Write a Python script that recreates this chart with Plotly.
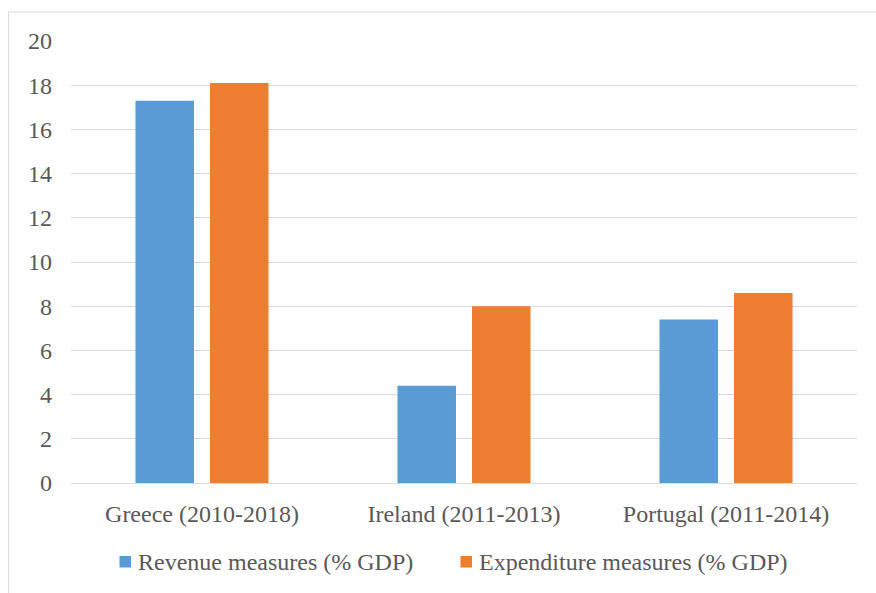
import plotly.graph_objects as go

# Fiscal consolidation measures by programme country
categories = ["Greece (2010-2018)", "Ireland (2011-2013)", "Portugal (2011-2014)"]
revenue = [17.3, 4.4, 7.4]
expenditure = [18.1, 8.0, 8.6]
series_names = ["Revenue measures (% GDP)", "Expenditure measures (% GDP)"]
y_ticks = [0, 2, 4, 6, 8, 10, 12, 14, 16, 18, 20]

BLUE = "#5B9BD5"
ORANGE = "#ED7D31"
TEXT = "#595959"
GRID = "#D9D9D9"
FONT = "Liberation Serif"
FS = 24

W, H = 876, 593
L, R, T, B = 71, 19, 41, 110
pw, ph = W - L - R, H - T - B

fig = go.Figure()
fig.add_trace(go.Bar(x=categories, y=revenue, name=series_names[0],
                     marker=dict(color=BLUE, line=dict(width=0))))
fig.add_trace(go.Bar(x=categories, y=expenditure, name=series_names[1],
                     marker=dict(color=ORANGE, line=dict(width=0))))


def px_x(px):
    return (px - L) / pw


def px_y(py):
    return (H - B - py) / ph


# light chart-area frame (left and top edges visible)
fig.add_shape(type="rect", xref="paper", yref="paper",
              x0=px_x(8.5), x1=px_x(W + 10), y0=px_y(H + 10), y1=px_y(12),
              line=dict(color=GRID, width=1), fillcolor="rgba(0,0,0,0)", layer="below")

# legend row below the axis: colour key squares with labels
legend_keys = [(119.5, 136, BLUE, series_names[0]), (460.5, 477, ORANGE, series_names[1])]
for sx, tx, col, label in legend_keys:
    fig.add_shape(type="rect", xref="paper", yref="paper",
                  x0=px_x(sx), x1=px_x(sx + 11.5), y0=px_y(567.5), y1=px_y(556),
                  line=dict(width=0), fillcolor=col)
    fig.add_annotation(xref="paper", yref="paper", x=px_x(tx), y=px_y(562),
                       xanchor="left", yanchor="middle", showarrow=False,
                       text=label, font=dict(family=FONT, size=FS, color=TEXT))

fig.update_layout(
    width=W, height=H,
    margin=dict(l=L, r=R, t=T, b=B),
    paper_bgcolor="white", plot_bgcolor="white",
    barmode="group", bargap=0.431, bargroupgap=0.215,
    font=dict(family=FONT, size=FS, color=TEXT),
    showlegend=False,
    xaxis=dict(showgrid=False, showline=True, linecolor=GRID, linewidth=1,
               ticks="", ticklabelstandoff=9, tickfont=dict(size=FS)),
    yaxis=dict(range=[0, 20], tickvals=y_ticks, showgrid=True, gridcolor=GRID,
               gridwidth=1, zeroline=False, showline=False, ticks="",
               ticklabelstandoff=18, tickfont=dict(size=FS)),
)

fig.write_html("out.html")
